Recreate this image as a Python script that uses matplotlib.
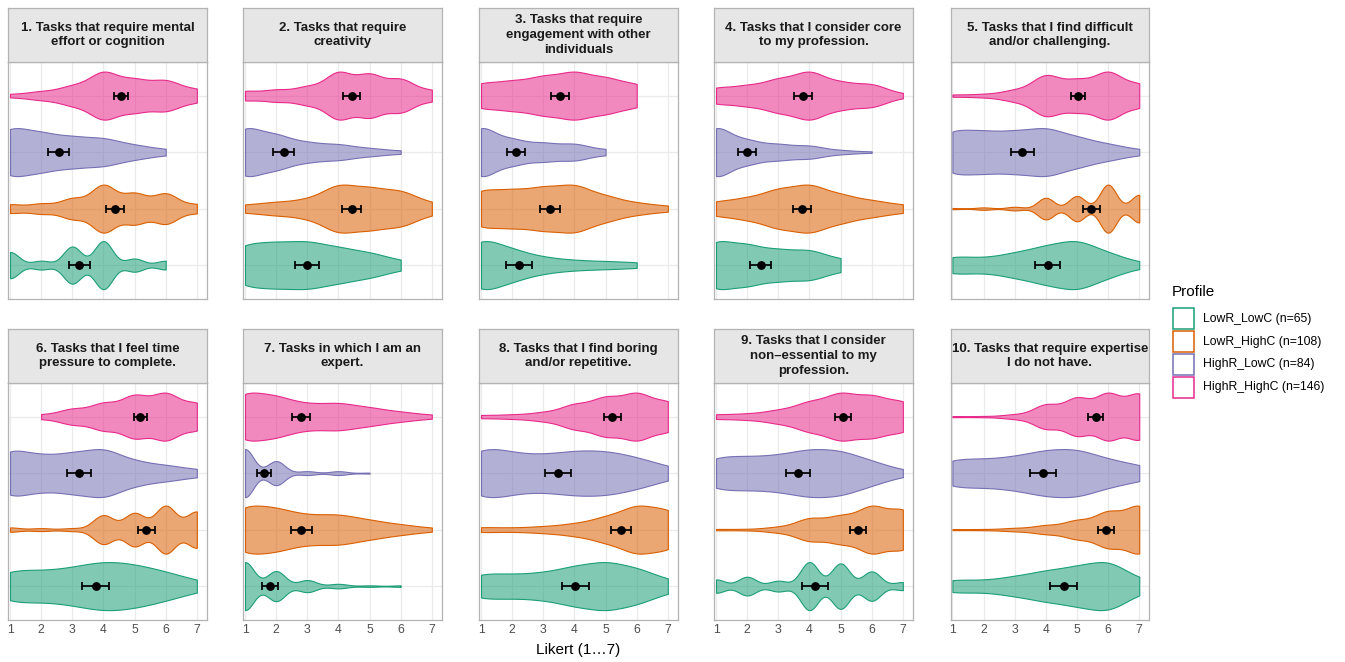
import numpy as np
import matplotlib
matplotlib.use("Agg")
import matplotlib.pyplot as plt
from matplotlib import cbook, mlab
from matplotlib.colors import to_rgba
from matplotlib.patches import Rectangle

plt.rcParams['font.family'] = ['Liberation Sans', 'DejaVu Sans']

# ---------------- data ----------------
likert = [1, 2, 3, 4, 5, 6, 7]
profiles = ["LowR_LowC", "LowR_HighC", "HighR_LowC", "HighR_HighC"]
profile_n = [65, 108, 84, 146]
colors = ["#1B9E77", "#D95F02", "#7570B3", "#E7298A"]

titles = [
    "1. Tasks that require mental\neffort or cognition",
    "2. Tasks that require\ncreativity",
    "3. Tasks that require\nengagement with other\nindividuals",
    "4. Tasks that I consider core\nto my profession.",
    "5. Tasks that I find difficult\nand/or challenging.",
    "6. Tasks that I feel time\npressure to complete.",
    "7. Tasks in which I am an\nexpert.",
    "8. Tasks that I find boring\nand/or repetitive.",
    "9. Tasks that I consider\nnon\u2013essential to my\nprofession.",
    "10. Tasks that require expertise\nI do not have.",
]

# response counts at Likert 1..7, one row per profile (LowR_LowC, LowR_HighC, HighR_LowC, HighR_HighC)
counts_q1 = [[12, 4, 17, 22, 6, 4, 0], [6, 7, 14, 33, 21, 21, 6], [26, 19, 15, 14, 7, 3, 0], [3, 8, 18, 46, 30, 29, 12]]
counts_q2 = [[14, 14, 15, 11, 8, 3, 0], [5, 8, 11, 30, 25, 22, 7], [33, 22, 12, 10, 5, 2, 0], [8, 10, 15, 40, 36, 28, 9]]
counts_q3 = [[29, 16, 8, 5, 4, 3, 0], [20, 19, 22, 25, 13, 6, 3], [37, 18, 13, 12, 4, 0, 0], [19, 21, 28, 35, 26, 17, 0]]
counts_q4 = [[20, 16, 12, 12, 5, 0, 0], [9, 13, 24, 30, 17, 10, 5], [40, 18, 12, 10, 3, 1, 0], [14, 17, 28, 42, 22, 20, 3]]
counts_q5 = [[7, 5, 9, 14, 19, 9, 2], [1, 2, 3, 18, 21, 40, 23], [17, 15, 15, 18, 11, 6, 2], [2, 3, 10, 38, 28, 44, 21]]
counts_q6 = [[10, 8, 10, 14, 12, 8, 3], [3, 2, 2, 20, 23, 33, 25], [19, 13, 15, 19, 9, 6, 3], [0, 4, 14, 24, 38, 42, 24]]
counts_q7 = [[32, 20, 8, 3, 1, 1, 0], [30, 25, 16, 18, 11, 6, 2], [50, 25, 4, 4, 1, 0, 0], [43, 34, 20, 23, 15, 8, 3]]
counts_q8 = [[8, 7, 8, 12, 15, 11, 4], [4, 3, 5, 9, 19, 37, 31], [19, 12, 11, 14, 14, 10, 4], [3, 4, 8, 23, 36, 44, 28]]
counts_q9 = [[5, 7, 4, 18, 17, 11, 3], [1, 1, 4, 17, 20, 35, 30], [13, 12, 13, 18, 17, 9, 2], [4, 5, 11, 25, 40, 35, 26]]
counts_q10 = [[5, 4, 7, 11, 14, 19, 5], [1, 1, 3, 8, 17, 33, 45], [11, 10, 12, 17, 18, 10, 6], [1, 1, 4, 22, 34, 42, 42]]
all_counts = [counts_q1, counts_q2, counts_q3, counts_q4, counts_q5,
              counts_q6, counts_q7, counts_q8, counts_q9, counts_q10]

# mean and 95% CI half-width per panel / profile
means = [
    [3.23, 4.38, 2.56, 4.56],
    [3.00, 4.42, 2.24, 4.42],
    [2.22, 3.21, 2.12, 3.53],
    [2.43, 3.76, 2.01, 3.80],
    [4.06, 5.46, 3.25, 5.03],
    [3.75, 5.38, 3.22, 5.19],
    [1.80, 2.81, 1.60, 2.80],
    [4.03, 5.50, 3.46, 5.22],
    [4.18, 5.56, 3.63, 5.07],
    [4.57, 5.93, 3.90, 5.60],
]
ci_half = [
    [0.34, 0.29, 0.33, 0.22],
    [0.38, 0.30, 0.33, 0.26],
    [0.41, 0.33, 0.30, 0.28],
    [0.34, 0.30, 0.29, 0.29],
    [0.41, 0.27, 0.38, 0.23],
    [0.445, 0.28, 0.375, 0.22],
    [0.26, 0.34, 0.22, 0.30],
    [0.44, 0.32, 0.42, 0.26],
    [0.41, 0.27, 0.385, 0.26],
    [0.43, 0.25, 0.415, 0.23],
]

x_ticks = [1, 2, 3, 4, 5, 6, 7]
x_label = "Likert (1\u20267)"
legend_title = "Profile"


# ---------------- helpers ----------------
def nrd0(x):
    x = np.asarray(x, float)
    sd = np.std(x, ddof=1)
    q75, q25 = np.percentile(x, [75, 25])
    lo = min(sd, (q75 - q25) / 1.34)
    if lo <= 0:
        lo = sd if sd > 0 else 1.0
    return 0.9 * lo * len(x) ** (-0.2)


def kde_method(X, coords):
    X = np.asarray(X, float)
    bw = nrd0(X)
    sd = np.std(X, ddof=1)
    kde = mlab.GaussianKDE(X, bw_method=lambda k: bw / sd)
    return kde.evaluate(coords)


W, H = 1345, 662
fig = plt.figure(figsize=(W / 100, H / 100), dpi=100)

col_left = [8.3, 243.3, 479.3, 714.3, 950.7]
panel_w = 198.5
rows = [  # strip top, strip bottom, panel bottom
    (8.3, 61.7, 299.0),
    (329.3, 382.7, 620.0),
]
border_col = "#B3B3B3"
grid_col = "#EBEBEB"
strip_fill = "#E6E6E6"
positions = [1, 2, 3, 4]

for i in range(10):
    r, c = divmod(i, 5)
    st, sb, pb = rows[r]
    x0 = col_left[c]
    ax = fig.add_axes([x0 / W, 1 - pb / H, panel_w / W, (pb - sb) / H])
    sax = fig.add_axes([x0 / W, 1 - sb / H, panel_w / W, (sb - st) / H])

    # strip
    sax.set_facecolor(strip_fill)
    sax.set_xticks([]); sax.set_yticks([])
    for sp in sax.spines.values():
        sp.set_color(border_col); sp.set_linewidth(0.9)
    sax.text(0.5, 0.5, titles[i], ha="center", va="center", fontsize=9.5,
             fontweight="bold", color="#1A1A1A", transform=sax.transAxes,
             linespacing=1.28)

    # panel
    ax.set_facecolor("white")
    ax.set_xlim(0.945, 7.32)
    ax.set_ylim(0.4, 4.6)
    ax.set_axisbelow(True)
    ax.set_xticks(x_ticks)
    ax.set_yticks(positions)
    ax.grid(True, color=grid_col, lw=0.9)
    ax.tick_params(axis="y", left=False, labelleft=False)
    ax.tick_params(axis="x", length=0, pad=3, labelsize=8.8, labelcolor="#4D4D4D")
    if r == 0:
        ax.tick_params(axis="x", labelbottom=False)
    for sp in ax.spines.values():
        sp.set_color(border_col); sp.set_linewidth(0.9)

    datasets = [np.repeat(likert, cnt) for cnt in all_counts[i]]
    stats = cbook.violin_stats(datasets, kde_method, points=512)
    try:
        parts = ax.violin(stats, positions=positions, orientation="horizontal",
                          widths=0.85, showmeans=False, showextrema=False,
                          showmedians=False)
    except TypeError:
        parts = ax.violin(stats, positions=positions, vert=False,
                          widths=0.85, showmeans=False, showextrema=False,
                          showmedians=False)
    for body, col in zip(parts["bodies"], colors):
        body.set_alpha(None)
        body.set_facecolor(to_rgba(col, 0.55))
        body.set_edgecolor(col)
        body.set_linewidth(0.8)

    ax.errorbar(means[i], positions, xerr=ci_half[i], fmt="o", color="black",
                ms=5.3, elinewidth=1.25, capsize=3.0, capthick=1.25, zorder=5)

# x-axis title
fig.text(578.5 / W, 1 - 650 / H, x_label, ha="center", va="center",
         fontsize=11, color="black")

# legend (manual)
fig.text(1172 / W, 1 - 292.5 / H, legend_title, ha="left", va="center",
         fontsize=11, color="black")
key_w, key_h, key_step = 21.0, 21.0, 22.7
key_top0 = 308.5
for k, (name, n, col) in enumerate(zip(profiles, profile_n, colors)):
    top = key_top0 + k * key_step
    fig.patches.append(Rectangle((1173 / W, 1 - (top + key_h) / H), key_w / W, key_h / H,
                                 transform=fig.transFigure, facecolor="white",
                                 edgecolor=col, lw=1.1))
    fig.text(1203 / W, 1 - (top + key_h / 2) / H, f"{name} (n={n})",
             ha="left", va="center", fontsize=8.8, color="black")

fig.savefig("out.png", dpi=100)
